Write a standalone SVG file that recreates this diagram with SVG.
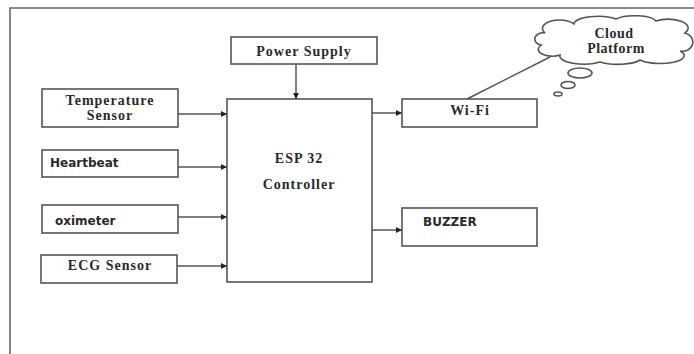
<svg xmlns="http://www.w3.org/2000/svg" width="694" height="354" viewBox="0 0 694 354">
<style>
  .box{fill:#fff;stroke:#555;stroke-width:1.6}
  .ln{fill:none;stroke:#555;stroke-width:1.5}
  .serif{font-family:"Liberation Serif","Times New Roman",serif;font-weight:bold;font-size:14px;letter-spacing:1px;fill:#2a2a2a}
  .cl{font-size:14px;letter-spacing:0.5px}
  .sans{font-family:"DejaVu Sans",Verdana,sans-serif;font-weight:bold;font-size:12px;fill:#2a2a2a}
  .mid{text-anchor:middle}
</style>
<defs>
  <marker id="ah" viewBox="0 0 10 10" refX="10" refY="5" markerWidth="7" markerHeight="6" markerUnits="userSpaceOnUse" orient="auto">
    <path d="M0,0 L10,5 L0,10 Z" fill="#222"/>
  </marker>
</defs>
<rect width="694" height="354" fill="#fff"/>
<g id="frame">
  <path d="M10,354 L10,8 L694,8" fill="none" stroke="#666" stroke-width="1.6"/>
</g>
<g id="connectors">
  <line class="ln" x1="296" y1="64" x2="296" y2="99" marker-end="url(#ah)"/>
  <line class="ln" x1="178" y1="114" x2="227" y2="114" marker-end="url(#ah)"/>
  <line class="ln" x1="178" y1="167" x2="227" y2="167" marker-end="url(#ah)"/>
  <line class="ln" x1="178" y1="217" x2="227" y2="217" marker-end="url(#ah)"/>
  <line class="ln" x1="177" y1="266" x2="227" y2="266" marker-end="url(#ah)"/>
  <line class="ln" x1="372" y1="113" x2="402" y2="113" marker-end="url(#ah)"/>
  <line class="ln" x1="372" y1="230" x2="402" y2="230" marker-end="url(#ah)"/>
  <line class="ln" x1="467" y1="99" x2="550" y2="57"/>
</g>
<g id="power">
  <rect class="box" x="231" y="37" width="146" height="27"/>
  <text class="serif mid" x="304" y="56">Power Supply</text>
</g>
<g id="esp32">
  <rect class="box" x="227" y="99" width="145" height="183"/>
  <text class="serif mid" x="299" y="163">ESP 32</text>
  <text class="serif mid" x="299" y="189">Controller</text>
</g>
<g id="temperature">
  <rect class="box" x="42" y="89" width="136" height="38"/>
  <text class="serif mid" x="110" y="105">Temperature</text>
  <text class="serif mid" x="110" y="120">Sensor</text>
</g>
<g id="heartbeat">
  <rect class="box" x="42" y="150" width="136" height="27"/>
  <text class="sans" x="50" y="167">Heartbeat</text>
</g>
<g id="oximeter">
  <rect class="box" x="42" y="205" width="136" height="28"/>
  <text class="sans" x="55" y="225">oximeter</text>
</g>
<g id="ecg">
  <rect class="box" x="41" y="255" width="136" height="28"/>
  <text class="serif mid" x="110" y="270">ECG Sensor</text>
</g>
<g id="wifi">
  <rect class="box" x="402" y="99" width="135" height="28"/>
  <text class="serif mid" x="470" y="115">Wi-Fi</text>
</g>
<g id="buzzer">
  <rect class="box" x="402" y="208" width="135" height="38"/>
  <text class="sans" x="423" y="226">BUZZER</text>
</g>
<g id="cloud">
  <path class="box" d="M545,33 A16,8 0 0 1 574,24 A24,8 0 0 1 616,19 A22,7 0 0 1 656,21 A20,9 0 0 1 685,33 A10,9 0 0 1 680,51 A24,8 0 0 1 640,60 A24,7 0 0 1 600,62 A24,8 0 0 1 560,55 A14,7 0 0 1 541,45 A8,6 0 0 1 545,33 Z"/>
  <text class="serif cl mid" x="614" y="38">Cloud</text>
  <text class="serif cl mid" x="616" y="53">Platform</text>
  <ellipse class="box" cx="580" cy="73" rx="12" ry="5"/>
  <ellipse class="box" cx="568" cy="85" rx="7" ry="3.5"/>
  <ellipse class="box" cx="558" cy="94" rx="4" ry="2"/>
</g>
</svg>
